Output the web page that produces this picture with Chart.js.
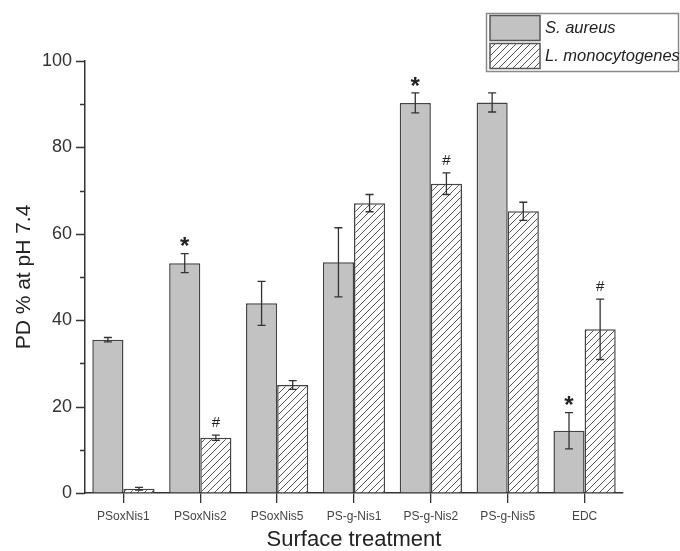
<!DOCTYPE html>
<html>
<head>
<meta charset="utf-8">
<script src="https://cdn.jsdelivr.net/npm/chart.js@4.4.1/dist/chart.umd.min.js"></script>
<style>
  html, body { margin: 0; padding: 0; background: #fff; }
  #wrap { width: 680px; height: 551px; }
</style>
</head>
<body>
<div id="wrap"><canvas id="chart"></canvas></div>
<script>
// data
const categories = ['PSoxNis1', 'PSoxNis2', 'PSoxNis5', 'PS-g-Nis1', 'PS-g-Nis2', 'PS-g-Nis5', 'EDC'];
const seriesNames = ['S. aureus', 'L. monocytogenes'];
const saureus = [35.5, 53.2, 43.9, 53.4, 90.3, 90.4, 14.4];
const saureusErr = [0.5, 2.2, 5.1, 8.0, 2.3, 2.2, 4.2];
const lmono = [1.0, 12.8, 25.0, 67.1, 71.6, 65.2, 37.9];
const lmonoErr = [0.3, 0.6, 1.0, 2.0, 2.5, 2.1, 7.0];
const saureusSig = ['', '*', '', '', '*', '', '*'];
const lmonoSig = ['', '#', '', '', '#', '', '#'];
const yTicks = [0, 20, 40, 60, 80, 100];

const FONT = '"Liberation Sans", Arial, sans-serif';
const AXIS = '#333';

// diagonal hatch
function makeHatch() {
  const c = document.createElement('canvas');
  c.width = 7; c.height = 7;
  const g = c.getContext('2d');
  g.fillStyle = '#fff';
  g.fillRect(0, 0, 7, 7);
  g.strokeStyle = '#555';
  g.lineWidth = 1;
  g.beginPath();
  g.moveTo(-1, 8); g.lineTo(8, -1);
  g.moveTo(-1, 1); g.lineTo(1, -1);
  g.moveTo(6, 8); g.lineTo(8, 6);
  g.stroke();
  return g.createPattern(c, 'repeat');
}
const hatch = makeHatch();

const errs = [saureusErr, lmonoErr];
const sigs = [saureusSig, lmonoSig];

const extras = {
  id: 'extras',
  afterDatasetsDraw(chart) {
    const ctx = chart.ctx;
    const y = chart.scales.y;
    ctx.save();
    // error bars + significance marks
    chart.data.datasets.forEach((ds, d) => {
      chart.getDatasetMeta(d).data.forEach((bar, i) => {
        const v = ds.data[i], e = errs[d][i];
        const top = y.getPixelForValue(v + e);
        const bot = y.getPixelForValue(v - e);
        ctx.strokeStyle = AXIS;
        ctx.lineWidth = 1.3;
        ctx.beginPath();
        ctx.moveTo(bar.x, top); ctx.lineTo(bar.x, bot);
        ctx.moveTo(bar.x - 4, top); ctx.lineTo(bar.x + 4, top);
        ctx.moveTo(bar.x - 4, bot); ctx.lineTo(bar.x + 4, bot);
        ctx.stroke();
        const s = sigs[d][i];
        if (s) {
          ctx.fillStyle = '#222';
          ctx.textAlign = 'center';
          ctx.textBaseline = 'middle';
          ctx.font = (s === '*' ? 'bold 24px ' : '15px ') + FONT;
          ctx.fillText(s, bar.x, top - (s === '*' ? 6 : 12));
        }
      });
    });
    // y ticks, major and minor, pointing out
    ctx.strokeStyle = AXIS;
    ctx.lineWidth = 1.3;
    ctx.beginPath();
    for (let v = 0; v <= 100; v += 10) {
      const py = Math.round(y.getPixelForValue(v)) + 0.5;
      const len = v % 20 === 0 ? 9 : 5;
      ctx.moveTo(y.right - len, py); ctx.lineTo(y.right, py);
    }
    ctx.stroke();
    ctx.restore();
  },
  afterDraw(chart) {
    const ctx = chart.ctx;
    ctx.save();
    // legend box
    ctx.fillStyle = '#fff';
    ctx.fillRect(486.5, 13.5, 192, 58);
    ctx.strokeStyle = '#8a8a8a';
    ctx.lineWidth = 1.5;
    ctx.strokeRect(486.5, 13.5, 192, 58);
    chart.data.datasets.forEach((ds, d) => {
      const top = 15.5 + d * 28;
      ctx.fillStyle = ds.backgroundColor;
      ctx.fillRect(490, top, 50, 25);
      ctx.strokeStyle = '#555';
      ctx.lineWidth = 1.5;
      ctx.strokeRect(490, top, 50, 25);
      ctx.fillStyle = '#222';
      ctx.font = 'italic 16.5px ' + FONT;
      ctx.textAlign = 'left';
      ctx.textBaseline = 'middle';
      ctx.fillText(ds.label, 545, top + 13);
    });
    ctx.restore();
  }
};

new Chart(document.getElementById('chart'), {
  type: 'bar',
  data: {
    labels: categories,
    datasets: [
      { label: seriesNames[0], data: saureus, backgroundColor: '#c2c2c2', borderColor: '#444', borderWidth: 1.5 },
      { label: seriesNames[1], data: lmono, backgroundColor: hatch, borderColor: '#444', borderWidth: 1.5 }
    ]
  },
  options: {
    responsive: true,
    maintainAspectRatio: false,
    animation: false,
    devicePixelRatio: 1,
    layout: { padding: { top: 61, right: 57, left: 0, bottom: 0 } },
    datasets: { bar: { categoryPercentage: 0.81, barPercentage: 1 } },
    plugins: { legend: { display: false }, tooltip: { enabled: false } },
    scales: {
      x: {
        offset: true,
        grid: { display: true, drawOnChartArea: false, offset: false, color: AXIS, lineWidth: 1.3, tickLength: 10 },
        border: { color: AXIS, width: 1.5 },
        ticks: { color: '#444', font: { family: FONT, size: 12 }, padding: 6, maxRotation: 0, autoSkip: false },
        title: { display: true, text: 'Surface treatment', color: '#222', font: { family: FONT, size: 22, lineHeight: 1 }, padding: 0 },
        afterFit: s => { s.height = 58; }
      },
      y: {
        min: 0, max: 100,
        grid: { drawOnChartArea: false, color: 'transparent', tickLength: 9 },
        border: { color: AXIS, width: 1.5 },
        ticks: {
          stepSize: 10,
          color: '#333',
          font: { family: FONT, size: 18 },
          padding: 4,
          callback: v => yTicks.includes(v) ? v : ''
        },
        title: { display: true, text: 'PD % at pH 7.4', color: '#222', font: { family: FONT, size: 21, lineHeight: 1 }, padding: { top: 14, bottom: 0 } },
        afterFit: s => { s.width = 85; }
      }
    }
  },
  plugins: [extras]
});
</script>
</body>
</html>
